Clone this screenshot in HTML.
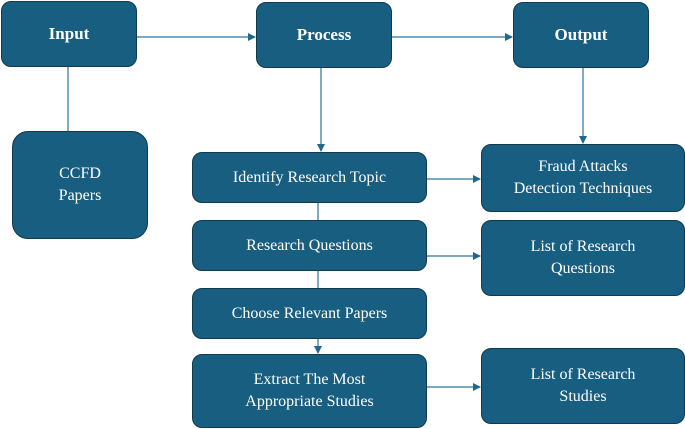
<!DOCTYPE html>
<html><head><style>
body{margin:0;width:685px;height:429px;background:#fff;position:relative;overflow:hidden;font-family:"Liberation Serif",serif;}
.b{position:absolute;box-sizing:border-box;background:#175e80;border:1.5px solid #12394d;border-radius:10px;color:#fff;display:flex;align-items:center;justify-content:center;text-align:center;font-size:16px;line-height:22px;}
.h{font-weight:bold;font-size:17px;}
svg{position:absolute;left:0;top:0;}
</style></head><body>
<svg width="685" height="429">
<defs><marker id="a" markerWidth="8" markerHeight="8" refX="7" refY="4" orient="auto" markerUnits="userSpaceOnUse"><path d="M0,0L8,4L0,8z" fill="#1f6a8c"/></marker></defs>
<g stroke="#2a7396" stroke-width="1.2" fill="none">
<line x1="136" y1="37" x2="255" y2="37" marker-end="url(#a)"/>
<line x1="392" y1="37" x2="512" y2="37" marker-end="url(#a)"/>
<line x1="68" y1="66" x2="68" y2="131"/>
<line x1="321" y1="67" x2="321" y2="151" marker-end="url(#a)"/>
<line x1="583" y1="67" x2="583" y2="143" marker-end="url(#a)"/>
<line x1="427" y1="179" x2="480" y2="179" marker-end="url(#a)"/>
<line x1="427" y1="256" x2="480" y2="256" marker-end="url(#a)"/>
<line x1="427" y1="387" x2="480" y2="387" marker-end="url(#a)"/>
<line x1="318" y1="203" x2="318" y2="220"/>
<line x1="318" y1="271" x2="318" y2="288"/>
<line x1="318" y1="339" x2="318" y2="353" marker-end="url(#a)"/>
</g></svg>
<div class="b h" style="left:1px;top:1px;width:136px;height:66px">Input</div>
<div class="b h" style="left:256px;top:2px;width:136px;height:66px">Process</div>
<div class="b h" style="left:513px;top:2px;width:136px;height:66px">Output</div>
<div class="b" style="left:12px;top:131px;width:136px;height:108px;border-radius:16px">CCFD<br>Papers</div>
<div class="b" style="left:192px;top:152px;width:235px;height:51px">Identify Research Topic</div>
<div class="b" style="left:192px;top:220px;width:235px;height:51px">Research Questions</div>
<div class="b" style="left:192px;top:288px;width:235px;height:51px">Choose Relevant Papers</div>
<div class="b" style="left:192px;top:354px;width:235px;height:74px">Extract The Most<br>Appropriate Studies</div>
<div class="b" style="left:481px;top:144px;width:204px;height:68px">Fraud Attacks<br>Detection Techniques</div>
<div class="b" style="left:481px;top:220px;width:204px;height:76px">List of Research<br>Questions</div>
<div class="b" style="left:481px;top:348px;width:204px;height:76px">List of Research<br>Studies</div>
</body></html>
